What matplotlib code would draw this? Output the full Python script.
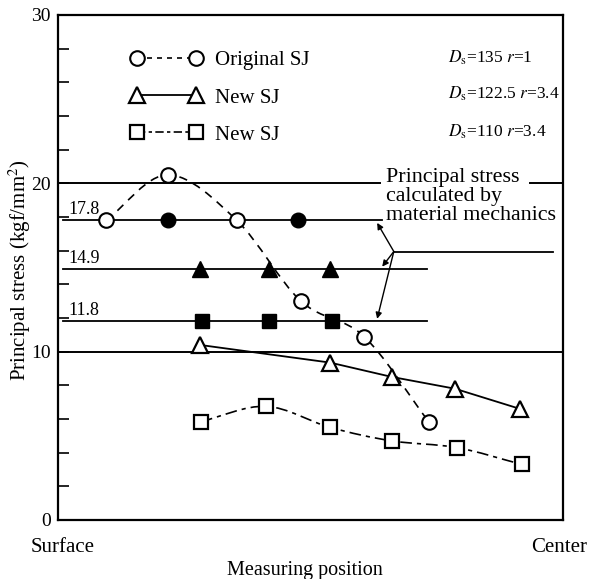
import matplotlib
matplotlib.use("Agg")
import matplotlib.pyplot as plt
from matplotlib.path import Path
from matplotlib.patches import PathPatch
from matplotlib.lines import Line2D

plt.rcParams['font.family'] = ['Liberation Serif', 'DejaVu Serif']
plt.rcParams['mathtext.fontset'] = 'stix'

# measured stresses (kgf/mm^2), position 0 = surface, 100 = center
orig_x = [9.5, 21.8, 35.4, 48.1, 60.6, 73.5]
orig_y = [17.8, 20.5, 17.8, 13.0, 10.9, 5.8]
tri_x = [28.1, 53.9, 66.1, 78.6, 91.5]
tri_y = [10.4, 9.35, 8.5, 7.8, 6.6]
sq_x = [28.3, 41.2, 53.9, 66.1, 79.0, 91.9]
sq_y = [5.85, 6.75, 5.5, 4.7, 4.3, 3.3]

# material mechanics values
calc_levels = [17.8, 14.9, 11.8]
calc_labels = ['17.8', '14.9', '11.8']
calc_end = [64.2, 73.1, 73.1]
fcirc_x = [21.8, 47.5]
ftri_x = [28.1, 41.8, 53.9]
fsq_x = [28.5, 41.8, 54.3]

legend_labels = ['Original SJ', 'New SJ', 'New SJ']
param_labels = [r'$D_\mathrm{s}$=135 $r$=1',
                r'$D_\mathrm{s}$=122.5 $r$=3.4',
                r'$D_\mathrm{s}$=110 $r$=3.4']
pos_labels = ['Surface', 'Center']


def smooth(xs, ys):
    # catmull-rom through the points, drawn as cubic bezier segments
    pts = list(zip(xs, ys))
    n = len(pts)
    ext = [(2*pts[0][0]-pts[1][0], 2*pts[0][1]-pts[1][1])] + pts + \
          [(2*pts[-1][0]-pts[-2][0], 2*pts[-1][1]-pts[-2][1])]
    verts = [pts[0]]
    codes = [Path.MOVETO]
    for i in range(1, n):
        p0, p1, p2, p3 = ext[i-1], ext[i], ext[i+1], ext[i+2]
        c1 = (p1[0] + (p2[0]-p0[0])/6, p1[1] + (p2[1]-p0[1])/6)
        c2 = (p2[0] - (p3[0]-p1[0])/6, p2[1] - (p3[1]-p1[1])/6)
        verts += [c1, c2, p2]
        codes += [Path.CURVE4]*3
    return Path(verts, codes)


fig = plt.figure(figsize=(5.9, 5.79), dpi=100)
ax = fig.add_axes([0.0983, 0.1019, 0.8559, 0.8722])
ax.set_xlim(0, 100)
ax.set_ylim(0, 30)

for s in ax.spines.values():
    s.set_linewidth(1.6)

# grid lines at 10 and 20 (20 broken by the note)
ax.axhline(10, color='black', lw=1.4, zorder=1)
ax.axhline(20, xmin=0, xmax=0.638, color='black', lw=1.4, zorder=1)
ax.axhline(20, xmin=0.935, xmax=1, color='black', lw=1.4, zorder=1)

# calculated levels
for lev, lab, xe in zip(calc_levels, calc_labels, calc_end):
    ax.plot([1.0, xe], [lev, lev], color='black', lw=1.3, zorder=1)
    ax.text(2.0, lev + 0.15, lab, fontsize=13, ha='left', va='bottom')

ax.plot(fcirc_x, [calc_levels[0]]*len(fcirc_x), 'o', color='black', ms=10.5, zorder=4)
ax.plot(ftri_x, [calc_levels[1]]*len(ftri_x), '^', color='black', ms=11.5, zorder=4)
ax.plot(fsq_x, [calc_levels[2]]*len(fsq_x), 's', color='black', ms=10, zorder=4)

# measured series
ax.add_patch(PathPatch(smooth(orig_x, orig_y), fill=False, lw=1.2,
                       linestyle=(0, (5, 4)), zorder=2))
ax.plot(orig_x, orig_y, 'o', ls='none', ms=10.5, mfc='white', mec='black', mew=1.5, zorder=5)

ax.plot(tri_x, tri_y, '-', color='black', lw=1.3, zorder=2)
ax.plot(tri_x, tri_y, '^', ls='none', ms=12, mfc='white', mec='black', mew=1.6, zorder=5)

ax.add_patch(PathPatch(smooth(sq_x, sq_y), fill=False, lw=1.2,
                       linestyle=(0, (7, 3, 2.5, 3)), zorder=2))
ax.plot(sq_x, sq_y, 's', ls='none', ms=10.5, mfc='white', mec='black', mew=1.6, zorder=5)

# note with arrows
ax.text(65.0, 20.1, 'Principal stress', fontsize=15.8, va='baseline')
ax.text(65.0, 18.93, 'calculated by', fontsize=15.8, va='baseline')
ax.text(65.0, 17.8, 'material mechanics', fontsize=15.8, va='baseline')
vx, vy = 66.5, 15.95
ax.plot([vx, 98.0], [vy, vy], color='black', lw=1.3)
for tx, ty in [(63.2, 17.65), (64.2, 15.05), (63.2, 11.95)]:
    ax.annotate('', xy=(tx, ty), xytext=(vx, vy),
                arrowprops=dict(arrowstyle='-|>', lw=1.0, color='black',
                                mutation_scale=9, shrinkA=0, shrinkB=0))

# legend
handles = [
    Line2D([], [], color='black', lw=1.2, ls=(0, (3, 3)), marker='o', ms=10.5,
           mfc='white', mew=1.5),
    Line2D([], [], color='black', lw=1.3, ls='-', marker='^', ms=12,
           mfc='white', mew=1.6),
    Line2D([], [], color='black', lw=1.2, ls=(0, (5, 2, 2, 2)), marker='s', ms=10.5,
           mfc='white', mew=1.6),
]
ax.legend(handles, legend_labels, loc='upper left', bbox_to_anchor=(0.145, 0.929),
          frameon=False, numpoints=2, handlelength=3.4, handletextpad=0.6,
          labelspacing=0.84, fontsize=15, borderaxespad=0, borderpad=0)
for i, p in enumerate(param_labels):
    ax.text(0.772, [0.915, 0.844, 0.768][i], p, fontsize=12.5,
            transform=ax.transAxes, va='center')

# axes ticks and labels
ax.set_yticks([0, 10, 20, 30])
ax.set_yticks(range(2, 30, 2), minor=True)
ax.tick_params(axis='y', which='both', direction='in', length=8, width=1.2,
               labelsize=14, pad=5)
ax.set_xticks([])
for xp, lab in zip([0, 100], pos_labels):
    ax.annotate(lab, xy=(xp, 0), xycoords=('data', 'axes fraction'),
                xytext=(-3 if xp else 3, -20), textcoords='offset points',
                ha='center', va='center', fontsize=15)
ax.set_ylabel('Principal stress (kgf/mm$^2$)', fontsize=15)
ax.yaxis.set_label_coords(-0.05, 0.495)
ax.set_xlabel('Measuring position', fontsize=14.5)
ax.xaxis.set_label_coords(0.489, -0.081)

fig.savefig('out.png', dpi=100)
